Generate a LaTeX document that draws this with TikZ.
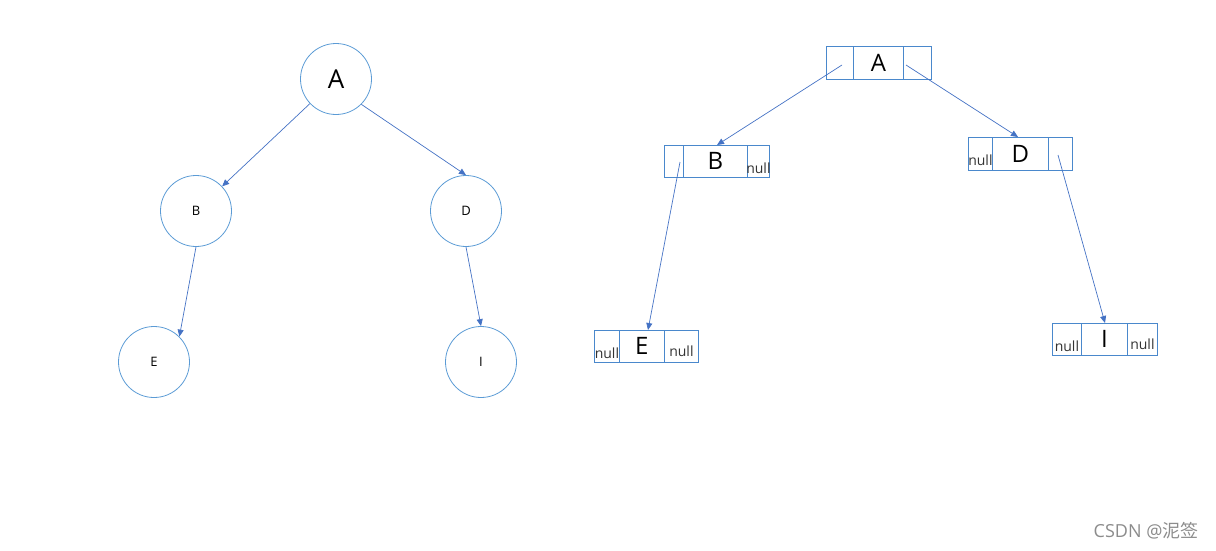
\documentclass[tikz,border=0pt]{standalone}
\usepackage{fontspec}
\setmainfont{Open Sans}
\newfontfamily\cjk{Noto Sans CJK SC}
\usetikzlibrary{arrows.meta}
\definecolor{circ}{HTML}{5B9BD5}
\definecolor{arr}{HTML}{4472C4}
\definecolor{boxc}{HTML}{4A88CC}
\tikzset{
  treenode/.style={circle,draw=circ,line width=0.8pt,minimum size=71pt,inner sep=0pt},
  cell/.style={draw=boxc,line width=0.8pt,inner sep=0pt,anchor=north west},
  link/.style={draw=arr,line width=0.7pt,-{Triangle[length=7pt,width=6pt]}},
  nulltxt/.style={font=\fontsize{14}{14}\selectfont,text=black!80,inner sep=0pt,anchor=base},
}
\begin{document}
\begin{tikzpicture}[x=1pt,y=-1pt]
\useasboundingbox (0,0) rectangle (1216,550);
% left tree
\node[treenode,font=\fontsize{26}{26}\selectfont] (A) at (336,79) {A};
\node[treenode,font=\fontsize{13}{13}\selectfont] (B) at (196,211) {B};
\node[treenode,font=\fontsize{13}{13}\selectfont] (D) at (466,211) {D};
\node[treenode,font=\fontsize{13}{13}\selectfont] (E) at (154,362) {E};
\node[treenode,font=\fontsize{13}{13}\selectfont] (I) at (481,362) {I};
\draw[link] (A) -- (B);
\draw[link] (A.-45) -- (D.north);
\draw[link] (B.south) -- (E.45);
\draw[link] (D.south) -- (I.north);
% right: linked boxes
% A box
\node[cell,minimum width=27pt,minimum height=33pt] (aL) at (826,46) {};
\node[cell,minimum width=50pt,minimum height=33pt,font=\fontsize{24}{24}\selectfont] (aM) at (853,46) {A};
\node[cell,minimum width=28pt,minimum height=33pt] (aR) at (903,46) {};
% B box
\node[cell,minimum width=19pt,minimum height=32pt] (bL) at (664,145) {};
\node[cell,minimum width=64pt,minimum height=32pt,font=\fontsize{24}{24}\selectfont] (bM) at (683,145) {B};
\node[cell,minimum width=22pt,minimum height=32pt] (bR) at (747,145) {};
\node[nulltxt] (bn) at ([yshift=4pt]bR.south) {null};
% D box
\node[cell,minimum width=24pt,minimum height=33pt] (dL) at (968,137) {};
\node[nulltxt] (dn) at ([yshift=5pt]dL.south) {null};
\node[cell,minimum width=56pt,minimum height=33pt,font=\fontsize{24}{24}\selectfont] (dM) at (992,137) {D};
\node[cell,minimum width=24pt,minimum height=33pt] (dR) at (1048,137) {};
% E box
\node[cell,minimum width=25pt,minimum height=32pt] (eL) at (594,330) {};
\node[nulltxt] (en1) at ([yshift=4pt]eL.south) {null};
\node[cell,minimum width=45pt,minimum height=32pt,font=\fontsize{24}{24}\selectfont] (eM) at (619,330) {E};
\node[cell,minimum width=34pt,minimum height=32pt] (eR) at (664,330) {};
\node[nulltxt] (en2) at ([yshift=6pt]eR.south) {null};
% I box
\node[cell,minimum width=29pt,minimum height=32pt] (iL) at (1052,323) {};
\node[nulltxt] (in1) at ([yshift=4pt]iL.south) {null};
\node[cell,minimum width=46pt,minimum height=32pt,font=\fontsize{24}{24}\selectfont] (iM) at (1081,323) {I};
\node[cell,minimum width=30pt,minimum height=32pt] (iR) at (1127,323) {};
\node[nulltxt] (in2) at ([yshift=6pt]iR.south) {null};
% pointer start points
\coordinate (pa1) at (842,65);
\coordinate (pa2) at (906,65);
\coordinate (pb) at (680,162);
\coordinate (pd) at (1058,155);
\draw[link] (pa1) -- (bM.north -| 717,0);
\draw[link] (pa2) -- (dM.north -| 1018,0);
\draw[link] (pb) -- (eM.north -| 648,0);
\draw[link] (pd) -- (iM.north -| 1105,0);
% watermark
\node[anchor=east,text=black!45,font=\fontsize{18}{18}\selectfont] (wm) at (1202,531) {CSDN @{\cjk 泥签}};
\end{tikzpicture}
\end{document}
